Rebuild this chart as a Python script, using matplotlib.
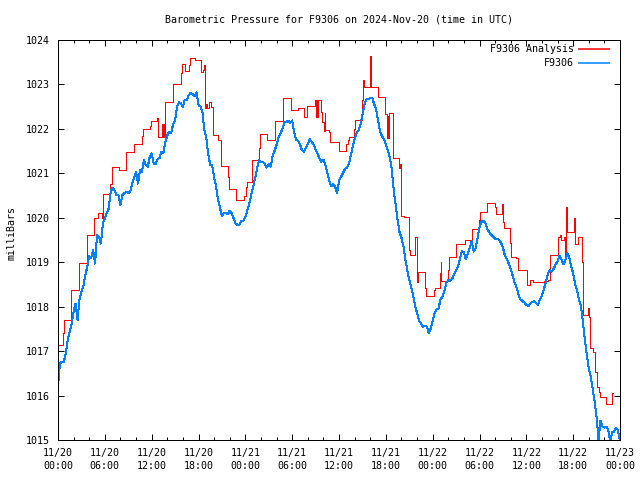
import numpy as np
import matplotlib
matplotlib.use("Agg")
import matplotlib.pyplot as plt
from matplotlib.ticker import MultipleLocator

# gnuplot-like look: small monospaced font, thin crisp lines
plt.rcParams['font.family'] = ['DejaVu Sans Mono']
plt.rcParams['font.size'] = 7.2

# --- data (hours since 2024-11-20 00:00 UTC) ---
# analysis values (step series)
red_hours = [0.0, 0.69, 0.81, 1.67, 2.74, 3.77, 4.67, 5.18, 5.6, 5.74, 6.68, 6.9, 7.76, 8.7, 9.72,
             10.75, 10.88, 11.8, 11.9, 12.68, 12.8, 13.3, 13.4, 13.5, 13.6, 13.75, 14.78, 15.72, 15.9,
             16.24, 16.75, 16.92, 17.6, 18.34, 18.6, 18.68, 18.77, 18.85, 19.0, 19.15, 19.32, 19.6,
             19.88, 20.48, 20.9, 21.81, 21.9, 22.83, 23.86, 24.04, 24.17, 24.81, 25.75, 25.88, 26.82,
             27.81, 28.83, 29.9, 30.8, 31.58, 31.88, 32.95, 33.0, 33.1, 33.2, 33.3, 33.67, 33.85, 34.02,
             34.15, 34.25, 34.75, 34.87, 35.95, 36.89, 37.1, 37.32, 37.96, 38.09, 38.95, 39.03, 39.16,
             40.0, 40.06, 40.96, 41.9, 42.1, 42.2, 42.3, 42.46, 42.89, 42.97, 43.74, 43.85, 43.92, 44.3,
             44.94, 45.11, 45.8, 45.93, 46.06, 47.04, 47.17, 48.16, 48.3, 48.97, 49.03, 49.1, 49.95,
             50.08, 51.03, 52.1, 53.04, 53.98, 54.11, 55.0, 55.96, 56.09, 56.9, 56.98, 57.12, 57.88,
             58.01, 58.7, 58.96, 60.03, 60.11, 60.45, 60.9, 62.2, 62.8, 63.02, 64.09, 64.3, 64.5, 64.8,
             64.95, 65.08, 65.17, 66.1, 66.24, 66.6, 67.14, 67.22, 67.87, 67.99, 68.16, 68.5, 68.85,
             69.11, 69.28, 69.45, 70.22, 70.95, 71.04]
red_mb = [1017.14, 1017.40, 1017.70, 1018.37, 1018.99, 1019.61, 1020.00, 1020.11, 1020.00, 1020.53,
          1020.77, 1021.15, 1021.07, 1021.47, 1021.65, 1021.85, 1021.99, 1022.06, 1022.18, 1022.24,
          1021.82, 1022.12, 1021.82, 1022.12, 1021.82, 1022.61, 1023.02, 1023.25, 1023.47, 1023.30,
          1023.44, 1023.59, 1023.56, 1023.29, 1023.32, 1023.44, 1023.06, 1022.46, 1022.57, 1022.46,
          1022.61, 1022.50, 1021.86, 1021.76, 1021.16, 1020.91, 1020.64, 1020.40, 1020.49, 1020.70,
          1020.81, 1021.30, 1021.58, 1021.88, 1021.76, 1022.18, 1022.69, 1022.42, 1022.47, 1022.26,
          1022.51, 1022.66, 1022.27, 1022.66, 1022.27, 1022.66, 1022.39, 1022.16, 1021.96, 1022.35,
          1021.98, 1021.94, 1021.71, 1021.50, 1021.66, 1021.75, 1021.81, 1021.99, 1022.20, 1022.65,
          1023.10, 1022.95, 1023.64, 1022.95, 1022.71, 1022.33, 1021.79, 1022.30, 1021.79, 1022.36,
          1021.58, 1021.34, 1021.11, 1021.21, 1020.04, 1020.02, 1019.27, 1019.16, 1019.57, 1018.56,
          1018.79, 1018.41, 1018.24, 1018.37, 1018.43, 1018.75, 1019.01, 1018.58, 1018.82, 1019.11,
          1019.41, 1019.50, 1019.74, 1019.95, 1020.12, 1020.34, 1020.25, 1020.08, 1020.31, 1019.90,
          1019.76, 1019.44, 1019.12, 1019.09, 1018.82, 1018.61, 1018.49, 1018.60, 1018.55, 1018.58,
          1018.61, 1019.16, 1019.56, 1019.61, 1019.50, 1019.57, 1019.12, 1020.25, 1019.69, 1019.99,
          1019.41, 1019.57, 1019.01, 1017.81, 1017.96, 1017.77, 1017.06, 1016.99, 1016.54, 1016.20,
          1016.09, 1015.96, 1015.82, 1016.05, 1016.05]

# station observations, one value every 15 minutes from 00:00
obs_step_min = 15
obs_mb = [
    # 11/20 00:00 - 18:00
    1016.20, 1016.72, 1016.76, 1016.76, 1016.95, 1017.25, 1017.44, 1017.62, 1017.89, 1018.07,
    1017.70, 1018.15, 1018.34, 1018.45, 1018.71, 1018.90, 1019.14, 1019.09, 1019.27, 1018.97,
    1019.61, 1019.57, 1019.42, 1019.87, 1019.99, 1020.11, 1020.21, 1020.59, 1020.68, 1020.61,
    1020.51, 1020.51, 1020.29, 1020.51, 1020.55, 1020.59, 1020.55, 1020.59, 1020.77, 1020.89,
    1021.04, 1020.77, 1021.07, 1021.04, 1021.30, 1021.19, 1021.15, 1021.37, 1021.45, 1021.22,
    1021.21, 1021.32, 1021.34, 1021.49, 1021.45, 1021.71, 1021.85, 1021.94, 1021.90, 1022.11,
    1022.20, 1022.50, 1022.60, 1022.57, 1022.50, 1022.66, 1022.65, 1022.76, 1022.81, 1022.78,
    1022.74, 1022.82, 1022.54,
    # 18:15 - 11/21 11:45
    1022.50, 1022.39, 1021.97, 1021.79, 1021.43, 1021.19, 1021.19, 1020.91, 1020.71, 1020.41,
    1020.23, 1020.04, 1020.11, 1020.10, 1020.08, 1020.16, 1020.10, 1019.99, 1019.87, 1019.84,
    1019.85, 1019.93, 1019.93, 1020.01, 1020.17, 1020.31, 1020.51, 1020.70, 1020.89, 1021.11,
    1021.30, 1021.26, 1021.25, 1021.21, 1021.13, 1021.21, 1021.15, 1021.40, 1021.51, 1021.64,
    1021.80, 1021.89, 1022.01, 1022.14, 1022.16, 1022.18, 1022.14, 1022.19, 1021.92, 1021.75,
    1021.73, 1021.65, 1021.52, 1021.49, 1021.57, 1021.66, 1021.77, 1021.71, 1021.65, 1021.54,
    1021.44, 1021.34, 1021.26, 1021.31, 1021.19, 1021.01, 1020.84, 1020.71, 1020.76, 1020.70,
    1020.55,
    # 11/21 12:00 - 11/22 05:45
    1020.83, 1020.92, 1021.00, 1021.09, 1021.13, 1021.20, 1021.39, 1021.60, 1021.77, 1021.91,
    1021.97, 1022.09, 1022.31, 1022.54, 1022.66, 1022.67, 1022.69, 1022.70, 1022.56, 1022.45,
    1022.20, 1021.94, 1021.84, 1021.77, 1021.65, 1021.52, 1021.37, 1021.11, 1020.64, 1020.29,
    1019.95, 1019.68, 1019.55, 1019.36, 1019.07, 1018.81, 1018.61, 1018.44, 1018.25, 1018.01,
    1017.86, 1017.69, 1017.62, 1017.55, 1017.56, 1017.55, 1017.41, 1017.51, 1017.68, 1017.86,
    1017.94, 1017.96, 1018.16, 1018.22, 1018.35, 1018.53, 1018.60, 1018.58, 1018.63, 1018.73,
    1018.82, 1018.91, 1019.09, 1019.25, 1019.22, 1019.07, 1019.19, 1019.33, 1019.47, 1019.24,
    1019.31, 1019.55,
    # 11/22 06:00 - 11/23 00:00
    1019.78, 1019.91, 1019.93, 1019.89, 1019.75, 1019.67, 1019.62, 1019.57, 1019.53, 1019.53,
    1019.50, 1019.44, 1019.33, 1019.15, 1019.07, 1018.97, 1018.85, 1018.70, 1018.54, 1018.43,
    1018.27, 1018.16, 1018.13, 1018.09, 1018.04, 1018.01, 1018.07, 1018.10, 1018.13, 1018.08,
    1018.04, 1018.16, 1018.25, 1018.39, 1018.56, 1018.73, 1018.82, 1018.79, 1018.85, 1018.95,
    1019.02, 1019.14, 1019.06, 1018.95, 1019.05, 1019.20, 1019.11, 1018.90, 1018.75, 1018.51,
    1018.37, 1018.15, 1018.02, 1017.66, 1017.26, 1016.91, 1016.61, 1016.42, 1016.16, 1015.86,
    1015.52, 1015.00, 1015.43, 1015.30, 1015.28, 1015.30, 1015.22, 1014.95, 1015.17, 1015.19,
    1015.28, 1015.21, 1014.98,
]
obs_hours = np.arange(len(obs_mb)) * obs_step_min / 60.0

tick_hours = [0, 6, 12, 18, 24, 30, 36, 42, 48, 54, 60, 66, 72]
tick_labels = ['11/20\n00:00', '11/20\n06:00', '11/20\n12:00', '11/20\n18:00',
               '11/21\n00:00', '11/21\n06:00', '11/21\n12:00', '11/21\n18:00',
               '11/22\n00:00', '11/22\n06:00', '11/22\n12:00', '11/22\n18:00',
               '11/23\n00:00']
series_names = ['F9306 Analysis', 'F9306']
series_colors = ['#ff0000', '#0080ff']
px = 0.72  # one pixel at 100 dpi, in points

# --- figure ---
fig = plt.figure(figsize=(6.4, 4.8), dpi=100)
ax = fig.add_axes([58 / 640, 40 / 480, 562 / 640, 400 / 480])

ax.plot(red_hours, red_mb, drawstyle='steps-post', color=series_colors[0], lw=px,
        antialiased=False)
ax.plot(obs_hours, obs_mb, color=series_colors[1], lw=px, antialiased=False)

ax.set_xlim(0, 72)
ax.set_ylim(1015, 1024)
ax.set_xticks(tick_hours)
ax.set_xticklabels(tick_labels, linespacing=1.35)
ax.xaxis.set_minor_locator(MultipleLocator(2))
ax.yaxis.set_major_locator(MultipleLocator(1))
ax.yaxis.set_major_formatter(plt.FuncFormatter(lambda v, _: f'{v:.0f}'))
ax.tick_params(which='both', direction='in', top=True, right=True, width=px, colors='black')
ax.tick_params(which='major', length=4.5, pad=6)
ax.tick_params(which='minor', length=2.5)
for s in ax.spines.values():
    s.set_linewidth(px)

# legend in gnuplot style: right-aligned text followed by sample line
for i, (name, col) in enumerate(zip(series_names, series_colors)):
    yy = (440 - 49 - 14 * i) / 400
    ax.text((574 - 58) / 562, yy, name, transform=ax.transAxes, ha='right', va='center')
    ax.plot([(578 - 58) / 562, (610 - 58) / 562], [yy, yy], transform=ax.transAxes,
            color=col, lw=1.1, solid_capstyle='butt')

fig.text(339 / 640, 1 - 20 / 480, 'Barometric Pressure for F9306 on 2024-Nov-20 (time in UTC)',
         ha='center', va='center')
fig.text(12 / 640, 1 - 233 / 480, 'milliBars', rotation=90, ha='center', va='center')

fig.savefig('out.png', dpi=100)
